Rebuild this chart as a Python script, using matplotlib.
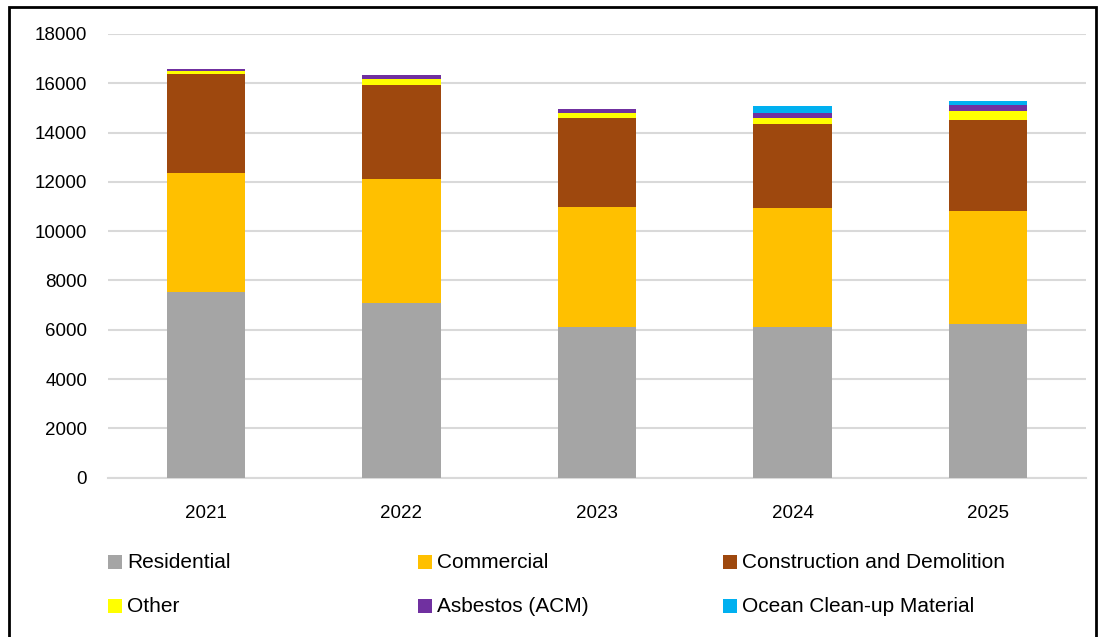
import matplotlib
matplotlib.use("Agg")
import matplotlib.pyplot as plt
from matplotlib.patches import Rectangle
import numpy as np

years = ["2021", "2022", "2023", "2024", "2025"]
residential = [7530, 7085, 6110, 6100, 6230]
commercial = [4840, 5025, 4880, 4820, 4605]
construction = [4000, 3810, 3600, 3415, 3690]
other = [120, 235, 220, 255, 350]
asbestos = [80, 200, 160, 190, 245]
ocean = [0, 0, 0, 300, 150]

series = [
    ("Residential", residential, "#a5a5a5"),
    ("Commercial", commercial, "#ffc000"),
    ("Construction and Demolition", construction, "#9e480e"),
    ("Other", other, "#ffff00"),
    ("Asbestos (ACM)", asbestos, "#7030a0"),
    ("Ocean Clean-up Material", ocean, "#00b0f0"),
]

plt.rcParams['font.family'] = ['Liberation Sans', 'DejaVu Sans']

W, H = 1105, 637
fig = plt.figure(figsize=(W / 100, H / 100), dpi=100)
ax = fig.add_axes([108 / W, 1 - 477.6 / H, (1086 - 108) / W, (477.6 - 34) / H])

x = np.arange(len(years))
bottom = np.zeros(len(years))
for name, vals, col in series:
    v = np.array(vals, dtype=float)
    ax.bar(x, v, 0.4, bottom=bottom, color=col, label=name, zorder=3)
    bottom += v

ax.set_xlim(-0.5, 4.5)
ax.set_ylim(0, 18000)
ax.set_yticks(np.arange(0, 18001, 2000))
ax.set_xticks(x)
ax.set_xticklabels(years)
ax.tick_params(axis='both', length=0, labelsize=13.5, colors='#000000')
ax.tick_params(axis='y', pad=15)
ax.tick_params(axis='x', pad=20)
ax.grid(axis='y', color='#d9d9d9', linewidth=1.5, zorder=0)
for s in ['top', 'right', 'left']:
    ax.spines[s].set_visible(False)
ax.spines['bottom'].set_color('#d9d9d9')
ax.spines['bottom'].set_linewidth(1.5)

# legend laid out row by row, as in the reference
col_x = [108, 418, 723]
row_y = [562, 606]
sq = 14
for i, (name, vals, col) in enumerate(series):
    cx = col_x[i % 3]
    cy = row_y[i // 3]
    fig.add_artist(Rectangle((cx / W, 1 - (cy + sq / 2) / H), sq / W, sq / H,
                             transform=fig.transFigure, facecolor=col,
                             edgecolor='none'))
    fig.text((cx + sq + 5) / W, 1 - cy / H, name, fontsize=15,
             va='center', ha='left', color='#000000')

# frame border like the reference image
fig.add_artist(Rectangle((9 / W, -0.05), (1096 - 9) / W, 1.05 - 7 / H,
                         transform=fig.transFigure, fill=False,
                         edgecolor='black', linewidth=2))

fig.savefig("out.png", dpi=100)
